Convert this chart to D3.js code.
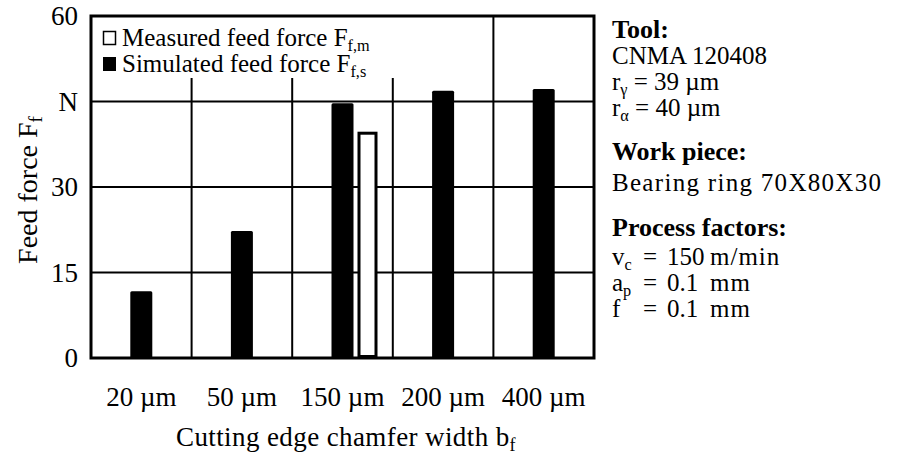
<!DOCTYPE html>
<html>
<head>
<meta charset="utf-8">
<script src="https://cdn.jsdelivr.net/npm/d3@7"></script>
<style>
  body { margin: 0; background: #fff; }
  svg { font-family: "Liberation Serif", "DejaVu Serif", serif; }
</style>
</head>
<body>
<div id="root"></div>
<script>
// chart values
var categories = ["20 µm", "50 µm", "150 µm", "200 µm", "400 µm"];
var simulated = [11.7, 22.3, 44.7, 46.9, 47.2];
var measured = [null, null, 39.7, null, null];
var yTicks = [0, 15, 30, 45, 60];
var yTickLabels = ["0", "15", "30", "N", "60"];

var width = 907, height = 455;
var margin = { top: 16, left: 91, right: 313, bottom: 97 };

var svg = d3.select("#root").append("svg")
  .attr("width", width).attr("height", height);

var x = d3.scaleBand()
  .domain(categories)
  .range([margin.left, width - margin.right])
  .padding(0);

var y = d3.scaleLinear()
  .domain([0, 60])
  .range([height - margin.bottom, margin.top]);

// grid
svg.append("g").selectAll("line.h")
  .data(yTicks.filter(d => d > 0 && d < 60))
  .enter().append("line")
  .attr("x1", margin.left).attr("x2", width - margin.right)
  .attr("y1", d => y(d)).attr("y2", d => y(d))
  .attr("stroke", "#000").attr("stroke-width", 2);

svg.append("g").selectAll("line.v")
  .data(categories.slice(1))
  .enter().append("line")
  .attr("x1", d => x(d)).attr("x2", d => x(d))
  .attr("y1", y(60)).attr("y2", y(0))
  .attr("stroke", "#000").attr("stroke-width", 2);

// bars
var bw = x.bandwidth();
svg.append("g").selectAll("rect.sim")
  .data(categories.map((c, i) => ({ c: c, v: simulated[i] })))
  .enter().append("rect")
  .attr("x", d => x(d.c) + bw / 2 - 11)
  .attr("y", d => y(d.v))
  .attr("width", 22)
  .attr("height", d => y(0) - y(d.v))
  .attr("rx", 1.5)
  .attr("fill", "#000");

svg.append("g").selectAll("rect.meas")
  .data(categories.map((c, i) => ({ c: c, v: measured[i] })).filter(d => d.v != null))
  .enter().append("rect")
  .attr("x", d => x(d.c) + bw / 2 + 16.5)
  .attr("y", d => y(d.v) + 1.5)
  .attr("width", 17)
  .attr("height", d => y(0) - y(d.v) - 3)
  .attr("fill", "#fff")
  .attr("stroke", "#000").attr("stroke-width", 3);

// legend box
var lg = svg.append("g");
lg.append("rect")
  .attr("x", margin.left + 1).attr("y", margin.top + 1)
  .attr("width", 390).attr("height", 61)
  .attr("fill", "#fff");
lg.append("rect")
  .attr("x", 103.5).attr("y", 31.5).attr("width", 12).attr("height", 13)
  .attr("fill", "#fff").attr("stroke", "#000").attr("stroke-width", 1.5);
lg.append("rect")
  .attr("x", 103).attr("y", 57).attr("width", 13).attr("height", 14)
  .attr("fill", "#000");

function subText(g, xx, yy, main, sub, size, extra) {
  var t = g.append("text").attr("x", xx).attr("y", yy)
    .attr("font-size", size).attr("fill", "#000");
  t.append("tspan").text(main);
  t.append("tspan").attr("font-size", size * 0.65).attr("dy", 5).text(sub);
  if (extra) t.append("tspan").attr("dy", -5).text(extra);
  return t;
}
subText(lg, 122, 46, "Measured feed force F", "f,m", 25);
subText(lg, 122, 72, "Simulated feed force F", "f,s", 25);

// frame
svg.append("rect")
  .attr("x", margin.left).attr("y", margin.top)
  .attr("width", width - margin.right - margin.left)
  .attr("height", height - margin.bottom - margin.top)
  .attr("fill", "none").attr("stroke", "#000").attr("stroke-width", 3);

// y axis labels
var yAxis = d3.axisLeft(y).tickValues(yTicks)
  .tickFormat((d, i) => yTickLabels[i]).tickSize(0).tickPadding(13);
svg.append("g").attr("transform", `translate(${margin.left},0)`)
  .call(yAxis)
  .call(g => g.select(".domain").remove())
  .selectAll("text")
  .attr("font-family", "Liberation Serif").attr("font-size", 27).attr("fill", "#000");

// x axis labels
var xAxis = d3.axisBottom(x).tickSize(0).tickPadding(29);
svg.append("g").attr("transform", `translate(0,${y(0)})`)
  .call(xAxis)
  .call(g => g.select(".domain").remove())
  .selectAll("text")
  .attr("font-family", "Liberation Serif").attr("font-size", 27).attr("fill", "#000");

// axis titles
var xt = svg.append("text").attr("x", 346).attr("y", 446)
  .attr("text-anchor", "middle").attr("font-size", 27).attr("letter-spacing", 0.4);
xt.append("tspan").text("Cutting edge chamfer width b");
xt.append("tspan").attr("font-size", 18).attr("dy", 5).text("f");

var yt = svg.append("text")
  .attr("transform", "translate(37,190) rotate(-90)")
  .attr("text-anchor", "middle").attr("font-size", 28);
yt.append("tspan").text("Feed force F");
yt.append("tspan").attr("font-size", 19).attr("dy", 5).text("f");

// side notes
var side = svg.append("g");
var sx = 612, fs = 25;
side.append("text").attr("x", sx).attr("y", 38).attr("font-size", fs + 1)
  .attr("font-weight", "bold").text("Tool:");
side.append("text").attr("x", sx).attr("y", 64).attr("font-size", fs).text("CNMA 120408");
subText(side, sx, 90, "r", "γ", fs, " = 39 µm");
subText(side, sx, 116, "r", "α", fs, " = 40 µm");
side.append("text").attr("x", sx).attr("y", 160).attr("font-size", fs + 1)
  .attr("font-weight", "bold").text("Work piece:");
side.append("text").attr("x", sx).attr("y", 191).attr("font-size", fs)
  .attr("letter-spacing", 1.3).text("Bearing ring 70X80X30");
side.append("text").attr("x", sx).attr("y", 236).attr("font-size", fs + 1)
  .attr("font-weight", "bold").text("Process factors:");

function factor(yy, main, sub, value, unit) {
  var t = side.append("text").attr("x", sx).attr("y", yy).attr("font-size", fs);
  t.append("tspan").text(main);
  if (sub) t.append("tspan").attr("font-size", fs * 0.65).attr("dy", 5).text(sub);
  t.append("tspan").attr("x", sx + 31).attr("y", yy).text("=");
  t.append("tspan").attr("x", sx + 55).text(value);
  t.append("tspan").attr("x", sx + 98).attr("letter-spacing", 1).text(unit);
}
factor(265, "v", "c", "150", "m/min");
factor(291, "a", "p", "0.1", "mm");
factor(317, "f", null, "0.1", "mm");
</script>
</body>
</html>
